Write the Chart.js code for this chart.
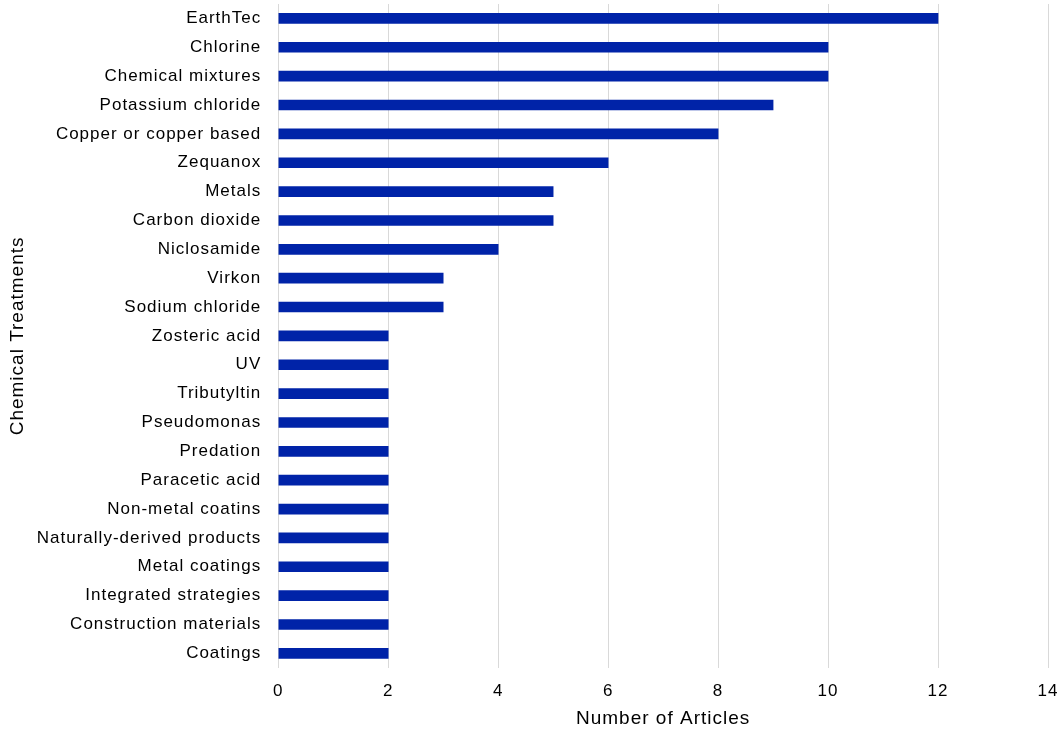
<!DOCTYPE html>
<html lang="en">
<head>
    <meta charset="UTF-8">
    <title>Chemical Treatments</title>
    <script src="https://cdn.jsdelivr.net/npm/chart.js"></script>
    <style>
        html, body { margin: 0; padding: 0; background: #fff; }
        .chart-box { width: 1059px; height: 732px; }
    </style>
</head>
<body>
    <div class="chart-box"><canvas id="treatments-chart"></canvas></div>
    <script>
        const treatments = [
            'EarthTec', 'Chlorine', 'Chemical mixtures', 'Potassium chloride',
            'Copper or copper based', 'Zequanox', 'Metals', 'Carbon dioxide',
            'Niclosamide', 'Virkon', 'Sodium chloride', 'Zosteric acid', 'UV',
            'Tributyltin', 'Pseudomonas', 'Predation', 'Paracetic acid',
            'Non-metal coatins', 'Naturally-derived products', 'Metal coatings',
            'Integrated strategies', 'Construction materials', 'Coatings'
        ];
        const articleCounts = [12, 10, 10, 9, 8, 6, 5, 5, 4, 3, 3, 2, 2, 2, 2, 2, 2, 2, 2, 2, 2, 2, 2];
        const xTicks = [0, 2, 4, 6, 8, 10, 12, 14];

        Chart.defaults.font.family = '"Liberation Sans", Arial, sans-serif';
        Chart.defaults.color = '#000';

        // the original text is set a bit loose, so spread letters a little
        const spacing = {
            id: 'spacing',
            beforeLayout(chart) { chart.ctx.letterSpacing = '1px'; },
            beforeDraw(chart) { chart.ctx.letterSpacing = '1px'; }
        };

        new Chart(document.getElementById('treatments-chart'), {
            type: 'bar',
            data: {
                labels: treatments,
                datasets: [{
                    label: 'Number of Articles',
                    data: articleCounts,
                    backgroundColor: '#0023a8',
                    barThickness: 10
                }]
            },
            options: {
                responsive: true,
                maintainAspectRatio: false,
                animation: false,
                indexAxis: 'y',
                layout: { padding: { top: 4, right: 11, bottom: 2, left: 6 } },
                plugins: {
                    legend: { display: false },
                    tooltip: { enabled: false }
                },
                scales: {
                    x: {
                        min: xTicks[0],
                        max: xTicks[xTicks.length - 1],
                        afterBuildTicks: axis => { axis.ticks = xTicks.map(v => ({ value: v })); },
                        afterFit: axis => { axis.paddingLeft = 0; axis.paddingRight = 0; },
                        grid: { color: '#d9d9d9', lineWidth: 1, drawTicks: false },
                        border: { display: false },
                        ticks: { font: { size: 17 }, padding: 13 },
                        title: { display: true, text: 'Number of Articles', font: { size: 19 }, padding: { top: -7, bottom: 0 } }
                    },
                    y: {
                        afterFit: axis => { axis.paddingTop = 0; axis.paddingBottom = 0; },
                        grid: { display: false },
                        border: { display: false },
                        ticks: { font: { size: 17 }, padding: 9, autoSkip: false },
                        title: { display: true, text: 'Chemical Treatments', font: { size: 19 }, padding: { top: 0, bottom: -1 } }
                    }
                }
            },
            plugins: [spacing]
        });
    </script>
</body>
</html>
